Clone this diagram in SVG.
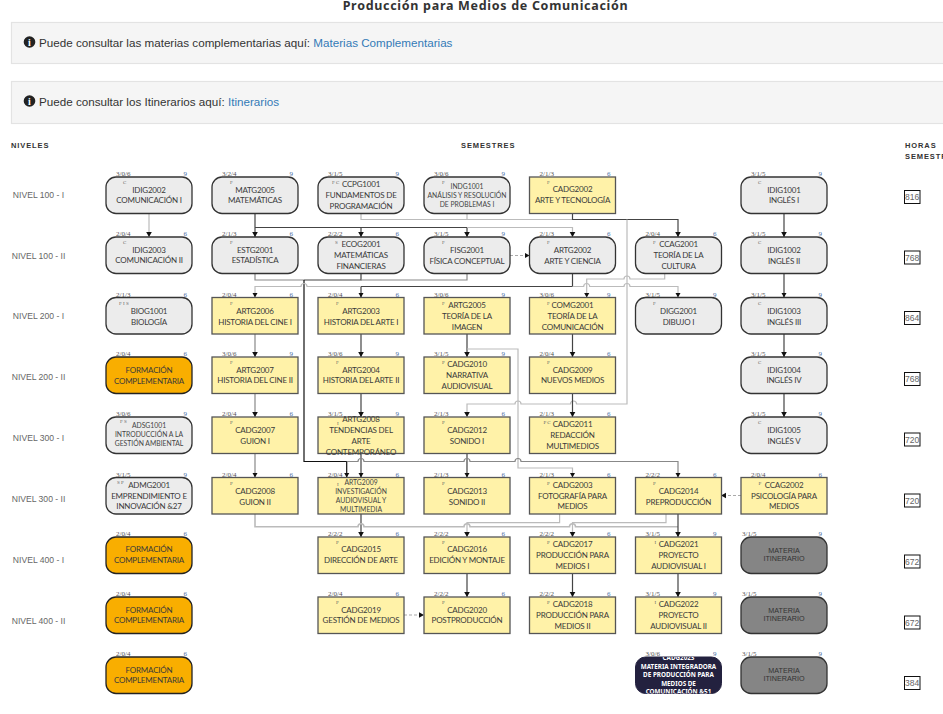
<svg xmlns="http://www.w3.org/2000/svg" width="943" height="714" viewBox="0 0 943 714">
<style>
text{font-family:"Lato","Liberation Sans",sans-serif}
.panel{fill:#f5f5f5;stroke:#e3e3e3;stroke-width:1.2}
.ptxt{font-family:"Liberation Sans",Arial,sans-serif;font-size:11.65px;fill:#333}
.link{fill:#337ab7}
.hd{font-family:"Liberation Sans",Arial,sans-serif;font-size:7.5px;font-weight:bold;fill:#333;letter-spacing:.9px}
.lvl{font-family:"Liberation Sans",Arial,sans-serif;font-size:8.6px;fill:#666;text-anchor:middle}
.hbox{fill:#fff;stroke:#111;stroke-width:1}
.htxt{font-family:"Liberation Sans",Arial,sans-serif;font-size:8.5px;fill:#666;text-anchor:middle}
.g{fill:#ececec;stroke:#333;stroke-width:1.3}
.y{fill:#fff2a8;stroke:#555;stroke-width:1.3}
.o{fill:#f9ae00;stroke:#222;stroke-width:1.3}
.m{fill:#858585;stroke:#333;stroke-width:1.3}
.b{fill:#23213f;stroke:#23213f;stroke-width:1}
.cr{font-family:"Liberation Serif",serif;font-size:7px;fill:#555}
.cd{font-family:"Liberation Serif",serif;font-size:7px;fill:#4a6fa5;text-anchor:end}
.tag{font-family:"Liberation Serif",serif;font-size:5px;fill:#666}
.t{font-size:8px;letter-spacing:-.2px;fill:#3a3a3a;text-anchor:middle}
.s{font-size:6.8px;fill:#444;text-anchor:middle}
.i{font-family:"Liberation Sans",Arial,sans-serif;font-size:7.2px;fill:#333;text-anchor:middle}
.w7{font-family:"Noto Sans",sans-serif;font-size:6.3px;font-weight:bold;fill:#fff;text-anchor:middle}
#connectors path{fill:none;stroke-width:1.2}
.cw{stroke:#bbb}
.cm{stroke:#888}
.cd2{stroke:#444}
.ck{stroke:#111;stroke-width:1.4}
.dash{stroke:#aaa;stroke-dasharray:3 2}
.a{marker-end:url(#arr)}
</style>
<defs>
<marker id="arr" markerUnits="userSpaceOnUse" markerWidth="7" markerHeight="7" refX="5" refY="3" orient="auto"><path d="M0 0.2L5 3L0 5.8Z" fill="#111"/></marker>
<clipPath id="clipB"><rect x="0" y="0" width="86" height="36.5" rx="10"/></clipPath>
</defs>
<rect width="943" height="714" fill="#fff"/>
<text x="485.500" y="9.500" text-anchor="middle" style="font-family:'Noto Sans',sans-serif;font-size:12.500px;font-weight:bold;fill:#333;letter-spacing:.7px">Producción para Medios de Comunicación</text>
<g id="panel1"><rect class="panel" x="11.500" y="22.500" width="945" height="41"/><circle cx="29.500" cy="42" r="5.800" fill="#222"/><text x="29.500" y="45.500" text-anchor="middle" style="font-family:'Liberation Serif',serif;font-size:10px;font-weight:bold;fill:#fff">i</text><text class="ptxt" x="39" y="47">Puede consultar las materias complementarias aquí: <tspan class="link">Materias Complementarias</tspan></text></g>
<g id="panel2"><rect class="panel" x="11.500" y="81.500" width="945" height="42"/><circle cx="29.500" cy="101" r="5.800" fill="#222"/><text x="29.500" y="104.500" text-anchor="middle" style="font-family:'Liberation Serif',serif;font-size:10px;font-weight:bold;fill:#fff">i</text><text class="ptxt" x="39" y="106">Puede consultar los Itinerarios aquí: <tspan class="link">Itinerarios</tspan></text></g>
<text class="hd" x="11" y="147.500">NIVELES</text>
<text class="hd" x="461" y="147.500">SEMESTRES</text>
<text class="hd" x="905" y="147.500">HORAS</text>
<text class="hd" x="905" y="158.500">SEMESTRE</text>
<g id="levels">
<text class="lvl" x="38.500" y="198">NIVEL 100 - I</text>
<text class="lvl" x="38.500" y="259">NIVEL 100 - II</text>
<text class="lvl" x="38.500" y="319">NIVEL 200 - I</text>
<text class="lvl" x="38.500" y="380">NIVEL 200 - II</text>
<text class="lvl" x="38.500" y="441">NIVEL 300 - I</text>
<text class="lvl" x="38.500" y="502">NIVEL 300 - II</text>
<text class="lvl" x="38.500" y="563">NIVEL 400 - I</text>
<text class="lvl" x="38.500" y="624">NIVEL 400 - II</text>
</g>
<g id="hours">
<g id="h1"><rect class="hbox" x="904.500" y="190.500" width="15.500" height="13"/><text class="htxt" x="912.200" y="200">816</text></g>
<g id="h2"><rect class="hbox" x="904.500" y="251" width="15.500" height="13"/><text class="htxt" x="912.200" y="260.500">768</text></g>
<g id="h3"><rect class="hbox" x="904.500" y="311.500" width="15.500" height="13"/><text class="htxt" x="912.200" y="321">864</text></g>
<g id="h4"><rect class="hbox" x="904.500" y="372.500" width="15.500" height="13"/><text class="htxt" x="912.200" y="382">768</text></g>
<g id="h5"><rect class="hbox" x="904.500" y="433" width="15.500" height="13"/><text class="htxt" x="912.200" y="442.500">720</text></g>
<g id="h6"><rect class="hbox" x="904.500" y="494" width="15.500" height="13"/><text class="htxt" x="912.200" y="503.500">720</text></g>
<g id="h7"><rect class="hbox" x="904.500" y="555" width="15.500" height="13"/><text class="htxt" x="912.200" y="564.500">672</text></g>
<g id="h8"><rect class="hbox" x="904.500" y="616" width="15.500" height="13"/><text class="htxt" x="912.200" y="625.500">672</text></g>
<g id="h9"><rect class="hbox" x="904.500" y="676.500" width="15.500" height="13"/><text class="htxt" x="912.200" y="686">384</text></g>
</g>
<g id="connectors">
<path class="cw a" d="M149 213.500V237"/>
<path class="cd2 a" d="M255 213.500V237"/>
<path class="cw" d="M361 213.500V219.500H572.500M467 213.500V219.500"/>
<path class="cd2 a" d="M572.500 213.500V219.500H678V237"/>
<path class="cd2 a" d="M255 227.500H361V237"/>
<path class="cd2 a" d="M361 227.500H467V237"/>
<path class="cw a" d="M467 227.500H572.500V237"/>
<path class="cw a" d="M627 219.500V404H576.500a3 3 0 0 0 -6 0H521a3 3 0 0 0 -6 0H467V417"/>
<path class="cm" d="M255 273.500V280H304"/>
<path class="cd2" d="M361 273.500V280H304"/>
<path class="cm" d="M467 273.500V280H361"/>
<path class="ck a" d="M304 280V461.500H346.700V477.500"/>
<path class="cd2 a" d="M572.500 273.500V286.500H361V297.500"/>
<path class="cw a" d="M361 286.500H307a3 3 0 0 0 -6 0H255V297.500"/>
<path class="cw a" d="M572.500 286.500H583.700a3 3 0 0 1 6 0H624a3 3 0 0 1 6 0H678V297.500"/>
<path class="cw a" d="M664.700 273.500V279H630a3 3 0 0 0 -6 0H586.700V297.500"/>
<path class="cm a" d="M255 334V357"/>
<path class="cm a" d="M255 393.500V417"/>
<path class="cm a" d="M255 453.500V477.500"/>
<path class="cd2 a" d="M361 334V357"/>
<path class="cd2 a" d="M361 393.500V417"/>
<path class="cd2 a" d="M361 453.500V477.500"/>
<path class="cd2 a" d="M467 334V357"/>
<path class="cw a" d="M467 349H518V468H572.500V477.500"/>
<path class="cd2 a" d="M572.500 334V357"/>
<path class="cd2 a" d="M572.500 393.500V417"/>
<path class="cd2 a" d="M467 453.500V477.500"/>
<path class="cm a" d="M346.700 461.500H358a3 3 0 0 1 6 0H464a3 3 0 0 1 6 0H515a3 3 0 0 1 6 0H678V477.500"/>
<path class="cd2 a" d="M361 514V537"/>
<path class="cw" style="stroke-width:1.6" d="M255 514V526.700H358a3 3 0 0 1 6 0H464a3 3 0 0 1 6 0H569.500a3 3 0 0 1 6 0H678"/>
<path class="cw a" d="M559.600 514V522.700H467V537"/>
<path class="cw a" d="M666 514V522.700H572.500V537"/>
<path class="cd2 a" d="M678 514V537"/>
<path class="cd2 a" d="M467 573.500V597"/>
<path class="cd2 a" d="M572.500 573.500V597"/>
<path class="cd2 a" d="M678 573.500V597"/>
<path class="cd2 a" d="M784 213.500V237"/>
<path class="cd2 a" d="M784 273.500V297.500"/>
<path class="cd2 a" d="M784 334V357"/>
<path class="cd2 a" d="M784 393.500V417"/>
<path class="dash a" d="M510 255.500H529.500"/>
<path class="dash a" d="M404 615H424"/>
<path class="dash a" d="M741 495.500H721"/>
</g>
<g id="nodes">
<g id="IDIG2002" transform="translate(106,177)"><rect class="g" width="86" height="36.500" rx="10"/><text class="cr" x="10" y="-1">3/0/6</text><text class="cd" x="81" y="-1">9</text><text class="tag" x="17" y="7">C</text><text class="t" x="43" y="16">IDIG2002</text><text class="t" x="43" y="26">COMUNICACIÓN I</text></g>
<g id="MATG2005" transform="translate(212,177)"><rect class="g" width="86" height="36.500" rx="10"/><text class="cr" x="10" y="-1">3/2/4</text><text class="cd" x="81" y="-1">9</text><text class="tag" x="18" y="7">F</text><text class="t" x="43" y="16">MATG2005</text><text class="t" x="43" y="26">MATEMÁTICAS</text></g>
<g id="CCPG1001" transform="translate(318,177)"><rect class="g" width="86" height="36.500" rx="10"/><text class="cr" x="10" y="-1">3/1/5</text><text class="cd" x="81" y="-1">9</text><text class="tag" x="14" y="7">F C</text><text class="t" x="43" y="10">CCPG1001</text><text class="t" x="43" y="21">FUNDAMENTOS DE</text><text class="t" x="43" y="32">PROGRAMACIÓN</text></g>
<g id="INDG1001" transform="translate(424,177)"><rect class="g" width="86" height="36.500" rx="10"/><text class="cr" x="10" y="-1">3/0/6</text><text class="cd" x="81" y="-1">9</text><text class="tag" x="18" y="7">F</text><text class="s" x="43" y="12">INDG1001</text><text class="s" x="43" y="21">ANÁLISIS Y RESOLUCIÓN</text><text class="s" x="43" y="30">DE PROBLEMAS I</text></g>
<g id="CADG2002" transform="translate(529.500,177)"><rect class="y" width="86" height="36.500"/><text class="cr" x="10" y="-1">2/1/3</text><text class="cd" x="81" y="-1">6</text><text class="tag" x="17.500" y="7">F</text><text class="t" x="43" y="15">CADG2002</text><text class="t" x="43" y="26">ARTE Y TECNOLOGÍA</text></g>
<g id="IDIG1001" transform="translate(741,177)"><rect class="g" width="86" height="36.500" rx="10"/><text class="cr" x="10" y="-1">3/1/5</text><text class="cd" x="81" y="-1">9</text><text class="tag" x="17" y="7">C</text><text class="t" x="43" y="16">IDIG1001</text><text class="t" x="43" y="26">INGLÉS I</text></g>

<g id="IDIG2003" transform="translate(106,237)"><rect class="g" width="86" height="36.500" rx="10"/><text class="cr" x="10" y="-1">2/0/4</text><text class="cd" x="81" y="-1">6</text><text class="tag" x="17" y="7">C</text><text class="t" x="43" y="16">IDIG2003</text><text class="t" x="43" y="26">COMUNICACIÓN II</text></g>
<g id="ESTG2001" transform="translate(212,237)"><rect class="g" width="86" height="36.500" rx="10"/><text class="cr" x="10" y="-1">2/1/3</text><text class="cd" x="81" y="-1">6</text><text class="tag" x="18" y="7">F</text><text class="t" x="43" y="16">ESTG2001</text><text class="t" x="43" y="26">ESTADÍSTICA</text></g>
<g id="ECOG2001" transform="translate(318,237)"><rect class="g" width="86" height="36.500" rx="10"/><text class="cr" x="10" y="-1">2/2/2</text><text class="cd" x="81" y="-1">6</text><text class="tag" x="17" y="7">S</text><text class="t" x="43" y="10">ECOG2001</text><text class="t" x="43" y="21">MATEMÁTICAS</text><text class="t" x="43" y="32">FINANCIERAS</text></g>
<g id="FISG2001" transform="translate(424,237)"><rect class="g" width="86" height="36.500" rx="10"/><text class="cr" x="10" y="-1">3/1/5</text><text class="cd" x="81" y="-1">9</text><text class="tag" x="18" y="7">F</text><text class="t" x="43" y="16">FISG2001</text><text class="t" x="43" y="27">FÍSICA CONCEPTUAL</text></g>
<g id="ARTG2002" transform="translate(529.500,237)"><rect class="g" width="86" height="36.500" rx="10"/><text class="cr" x="10" y="-1">2/1/3</text><text class="cd" x="81" y="-1">6</text><text class="tag" x="17.500" y="7">F</text><text class="t" x="43" y="16">ARTG2002</text><text class="t" x="43" y="27">ARTE Y CIENCIA</text></g>
<g id="CCAG2001" transform="translate(635.500,237)"><rect class="g" width="86" height="36.500" rx="10"/><text class="cr" x="10" y="-1">2/0/4</text><text class="cd" x="81" y="-1">6</text><text class="tag" x="17.500" y="7">F</text><text class="t" x="43" y="10">CCAG2001</text><text class="t" x="43" y="21">TEORÍA DE LA</text><text class="t" x="43" y="32">CULTURA</text></g>
<g id="IDIG1002" transform="translate(741,237)"><rect class="g" width="86" height="36.500" rx="10"/><text class="cr" x="10" y="-1">3/1/5</text><text class="cd" x="81" y="-1">9</text><text class="tag" x="17" y="7">C</text><text class="t" x="43" y="16">IDIG1002</text><text class="t" x="43" y="27">INGLÉS II</text></g>

<g id="BIOG1001" transform="translate(106,297.500)"><rect class="g" width="86" height="36.500" rx="10"/><text class="cr" x="10" y="-1">2/1/3</text><text class="cd" x="81" y="-1">6</text><text class="tag" x="13" y="7">F I S</text><text class="t" x="43" y="16">BIOG1001</text><text class="t" x="43" y="27">BIOLOGÍA</text></g>
<g id="ARTG2006" transform="translate(212,297.500)"><rect class="y" width="86" height="36.500"/><text class="cr" x="10" y="-1">2/0/4</text><text class="cd" x="81" y="-1">6</text><text class="tag" x="18" y="7">F</text><text class="t" x="43" y="16">ARTG2006</text><text class="t" x="43" y="27">HISTORIA DEL CINE I</text></g>
<g id="ARTG2003" transform="translate(318,297.500)"><rect class="y" width="86" height="36.500"/><text class="cr" x="10" y="-1">2/0/4</text><text class="cd" x="81" y="-1">6</text><text class="tag" x="18" y="7">F</text><text class="t" x="43" y="16">ARTG2003</text><text class="t" x="43" y="27">HISTORIA DEL ARTE I</text></g>
<g id="ARTG2005" transform="translate(424,297.500)"><rect class="y" width="86" height="36.500"/><text class="cr" x="10" y="-1">3/0/6</text><text class="cd" x="81" y="-1">9</text><text class="tag" x="18" y="7">F</text><text class="t" x="43" y="10">ARTG2005</text><text class="t" x="43" y="21">TEORÍA DE LA</text><text class="t" x="43" y="32">IMAGEN</text></g>
<g id="COMG2001" transform="translate(529.500,297.500)"><rect class="y" width="86" height="36.500"/><text class="cr" x="10" y="-1">3/0/6</text><text class="cd" x="81" y="-1">9</text><text class="tag" x="17.500" y="7">F</text><text class="t" x="43" y="10">COMG2001</text><text class="t" x="43" y="21">TEORÍA DE LA</text><text class="t" x="43" y="32">COMUNICACIÓN</text></g>
<g id="DIGG2001" transform="translate(635.500,297.500)"><rect class="g" width="86" height="36.500" rx="10"/><text class="cr" x="10" y="-1">3/1/5</text><text class="cd" x="81" y="-1">9</text><text class="tag" x="17.500" y="7">F</text><text class="t" x="43" y="16">DIGG2001</text><text class="t" x="43" y="27">DIBUJO I</text></g>
<g id="IDIG1003" transform="translate(741,297.500)"><rect class="g" width="86" height="36.500" rx="10"/><text class="cr" x="10" y="-1">3/1/5</text><text class="cd" x="81" y="-1">9</text><text class="tag" x="17" y="7">C</text><text class="t" x="43" y="16">IDIG1003</text><text class="t" x="43" y="27">INGLÉS III</text></g>

<g id="FC1" transform="translate(106,357)"><rect class="o" width="86" height="36.500" rx="10"/><text class="cr" x="10" y="-1">2/0/4</text><text class="cd" x="81" y="-1">6</text><text class="t" x="43" y="16">FORMACIÓN</text><text class="t" x="43" y="27">COMPLEMENTARIA</text></g>
<g id="ARTG2007" transform="translate(212,357)"><rect class="y" width="86" height="36.500"/><text class="cr" x="10" y="-1">3/0/6</text><text class="cd" x="81" y="-1">9</text><text class="tag" x="18" y="7">F</text><text class="t" x="43" y="16">ARTG2007</text><text class="t" x="43" y="26">HISTORIA DEL CINE II</text></g>
<g id="ARTG2004" transform="translate(318,357)"><rect class="y" width="86" height="36.500"/><text class="cr" x="10" y="-1">3/0/6</text><text class="cd" x="81" y="-1">9</text><text class="tag" x="18" y="7">F</text><text class="t" x="43" y="16">ARTG2004</text><text class="t" x="43" y="26">HISTORIA DEL ARTE II</text></g>
<g id="CADG2010" transform="translate(424,357)"><rect class="y" width="86" height="36.500"/><text class="cr" x="10" y="-1">3/1/5</text><text class="cd" x="81" y="-1">9</text><text class="tag" x="18" y="7">P</text><text class="t" x="43" y="10">CADG2010</text><text class="t" x="43" y="21">NARRATIVA</text><text class="t" x="43" y="32">AUDIOVISUAL</text></g>
<g id="CADG2009" transform="translate(529.500,357)"><rect class="y" width="86" height="36.500"/><text class="cr" x="10" y="-1">2/0/4</text><text class="cd" x="81" y="-1">6</text><text class="tag" x="17.500" y="7">P</text><text class="t" x="43" y="16">CADG2009</text><text class="t" x="43" y="26">NUEVOS MEDIOS</text></g>
<g id="IDIG1004" transform="translate(741,357)"><rect class="g" width="86" height="36.500" rx="10"/><text class="cr" x="10" y="-1">3/1/5</text><text class="cd" x="81" y="-1">9</text><text class="tag" x="17" y="7">C</text><text class="t" x="43" y="16">IDIG1004</text><text class="t" x="43" y="26">INGLÉS IV</text></g>

<g id="ADSG1001" transform="translate(106,417)"><rect class="g" width="86" height="36.500" rx="10"/><text class="cr" x="10" y="-1">3/0/6</text><text class="cd" x="81" y="-1">9</text><text class="tag" x="14" y="6">F S</text><text class="s" x="43" y="10.500">ADSG1001</text><text class="s" x="43" y="19.500">INTRODUCCIÓN A LA</text><text class="s" x="43" y="28.500">GESTIÓN AMBIENTAL</text></g>
<g id="CADG2007" transform="translate(212,417)"><rect class="y" width="86" height="36.500"/><text class="cr" x="10" y="-1">2/0/4</text><text class="cd" x="81" y="-1">6</text><text class="tag" x="18" y="7">P</text><text class="t" x="43" y="16">CADG2007</text><text class="t" x="43" y="27">GUION I</text></g>
<g id="ARTG2008" transform="translate(318,417)"><rect class="y" width="86" height="36.500"/><text class="cr" x="10" y="-1">3/1/5</text><text class="cd" x="81" y="-1">9</text><text class="tag" x="19" y="8">I</text><text class="t" x="43" y="5">ARTG2008</text><text class="t" x="43" y="16">TENDENCIAS DEL</text><text class="t" x="43" y="27">ARTE</text><text class="t" x="43" y="38">CONTEMPORÁNEO</text></g>
<g id="CADG2012" transform="translate(424,417)"><rect class="y" width="86" height="36.500"/><text class="cr" x="10" y="-1">2/1/3</text><text class="cd" x="81" y="-1">6</text><text class="tag" x="18" y="7">P</text><text class="t" x="43" y="16">CADG2012</text><text class="t" x="43" y="27">SONIDO I</text></g>
<g id="CADG2011" transform="translate(529.500,417)"><rect class="y" width="86" height="36.500"/><text class="cr" x="10" y="-1">2/1/3</text><text class="cd" x="81" y="-1">6</text><text class="tag" x="14" y="7">P C</text><text class="t" x="43" y="10">CADG2011</text><text class="t" x="43" y="21">REDACCIÓN</text><text class="t" x="43" y="32">MULTIMEDIOS</text></g>
<g id="IDIG1005" transform="translate(741,417)"><rect class="g" width="86" height="36.500" rx="10"/><text class="cr" x="10" y="-1">3/1/5</text><text class="cd" x="81" y="-1">9</text><text class="tag" x="17" y="7">C</text><text class="t" x="43" y="16">IDIG1005</text><text class="t" x="43" y="27">INGLÉS V</text></g>

<g id="ADMG2001" transform="translate(106,477.500)"><rect class="g" width="86" height="36.500" rx="10"/><text class="cr" x="10" y="-1">3/1/5</text><text class="cd" x="81" y="-1">9</text><text class="tag" x="11" y="6">S P</text><text class="t" x="43" y="10">ADMG2001</text><text class="t" x="43" y="21">EMPRENDIMIENTO E</text><text class="t" x="43" y="31">INNOVACIÓN &amp;27</text></g>
<g id="CADG2008" transform="translate(212,477.500)"><rect class="y" width="86" height="36.500"/><text class="cr" x="10" y="-1">2/0/4</text><text class="cd" x="81" y="-1">6</text><text class="tag" x="18" y="7">P</text><text class="t" x="43" y="16">CADG2008</text><text class="t" x="43" y="27">GUION II</text></g>
<g id="ARTG2009" transform="translate(318,477.500)"><rect class="y" width="86" height="36.500"/><text class="cr" x="10" y="-1">2/0/4</text><text class="cd" x="81" y="-1">6</text><text class="tag" x="19" y="8">I</text><text class="s" x="43" y="7.500">ARTG2009</text><text class="s" x="43" y="16.500">INVESTIGACIÓN</text><text class="s" x="43" y="25.500">AUDIOVISUAL Y</text><text class="s" x="43" y="34.500">MULTIMEDIA</text></g>
<g id="CADG2013" transform="translate(424,477.500)"><rect class="y" width="86" height="36.500"/><text class="cr" x="10" y="-1">2/1/3</text><text class="cd" x="81" y="-1">6</text><text class="tag" x="18" y="7">P</text><text class="t" x="43" y="16">CADG2013</text><text class="t" x="43" y="27">SONIDO II</text></g>
<g id="CADG2003" transform="translate(529.500,477.500)"><rect class="y" width="86" height="36.500"/><text class="cr" x="10" y="-1">2/1/3</text><text class="cd" x="81" y="-1">6</text><text class="tag" x="17.500" y="7">P</text><text class="t" x="43" y="10">CADG2003</text><text class="t" x="43" y="21">FOTOGRAFÍA PARA</text><text class="t" x="43" y="31">MEDIOS</text></g>
<g id="CADG2014" transform="translate(635.500,477.500)"><rect class="y" width="86" height="36.500"/><text class="cr" x="10" y="-1">2/2/2</text><text class="cd" x="81" y="-1">6</text><text class="tag" x="17.500" y="7">P</text><text class="t" x="43" y="16">CADG2014</text><text class="t" x="43" y="27">PREPRODUCCIÓN</text></g>
<g id="CCAG2002" transform="translate(741,477.500)"><rect class="y" width="86" height="36.500"/><text class="cr" x="10" y="-1">2/0/4</text><text class="cd" x="81" y="-1">6</text><text class="tag" x="17.500" y="7">P</text><text class="t" x="43" y="10">CCAG2002</text><text class="t" x="43" y="21">PSICOLOGÍA PARA</text><text class="t" x="43" y="31">MEDIOS</text></g>

<g id="FC2" transform="translate(106,537)"><rect class="o" width="86" height="36.500" rx="10"/><text class="cr" x="10" y="-1">2/0/4</text><text class="cd" x="81" y="-1">6</text><text class="t" x="43" y="15">FORMACIÓN</text><text class="t" x="43" y="26">COMPLEMENTARIA</text></g>
<g id="CADG2015" transform="translate(318,537)"><rect class="y" width="86" height="36.500"/><text class="cr" x="10" y="-1">2/2/2</text><text class="cd" x="81" y="-1">6</text><text class="tag" x="18" y="7">P</text><text class="t" x="43" y="15">CADG2015</text><text class="t" x="43" y="26">DIRECCIÓN DE ARTE</text></g>
<g id="CADG2016" transform="translate(424,537)"><rect class="y" width="86" height="36.500"/><text class="cr" x="10" y="-1">2/2/2</text><text class="cd" x="81" y="-1">6</text><text class="tag" x="18" y="7">P</text><text class="t" x="43" y="15">CADG2016</text><text class="t" x="43" y="26">EDICIÓN Y MONTAJE</text></g>
<g id="CADG2017" transform="translate(529.500,537)"><rect class="y" width="86" height="36.500"/><text class="cr" x="10" y="-1">2/2/2</text><text class="cd" x="81" y="-1">6</text><text class="tag" x="17.500" y="7">P</text><text class="t" x="43" y="10">CADG2017</text><text class="t" x="43" y="21">PRODUCCIÓN PARA</text><text class="t" x="43" y="32">MEDIOS I</text></g>
<g id="CADG2021" transform="translate(635.500,537)"><rect class="y" width="86" height="36.500"/><text class="cr" x="10" y="-1">3/1/5</text><text class="cd" x="81" y="-1">9</text><text class="tag" x="19" y="7">I</text><text class="t" x="43" y="10">CADG2021</text><text class="t" x="43" y="21">PROYECTO</text><text class="t" x="43" y="32">AUDIOVISUAL I</text></g>
<g id="MI1" transform="translate(741,537)"><rect class="m" width="86" height="36.500" rx="10"/><text class="cr" x="1" y="-1">3/1/5</text><text class="cd" x="81" y="-1">9</text><text class="i" x="43" y="15.500">MATERIA</text><text class="i" x="43" y="24">ITINERARIO</text></g>

<g id="FC3" transform="translate(106,597)"><rect class="o" width="86" height="36.500" rx="10"/><text class="cr" x="10" y="-1">2/0/4</text><text class="cd" x="81" y="-1">6</text><text class="t" x="43" y="16">FORMACIÓN</text><text class="t" x="43" y="26">COMPLEMENTARIA</text></g>
<g id="CADG2019" transform="translate(318,597)"><rect class="y" width="86" height="36.500"/><text class="cr" x="10" y="-1">2/0/4</text><text class="cd" x="81" y="-1">6</text><text class="tag" x="18" y="7">P</text><text class="t" x="43" y="16">CADG2019</text><text class="t" x="43" y="26">GESTIÓN DE MEDIOS</text></g>
<g id="CADG2020" transform="translate(424,597)"><rect class="y" width="86" height="36.500"/><text class="cr" x="10" y="-1">2/2/2</text><text class="cd" x="81" y="-1">6</text><text class="tag" x="18" y="7">P</text><text class="t" x="43" y="16">CADG2020</text><text class="t" x="43" y="26">POSTPRODUCCIÓN</text></g>
<g id="CADG2018" transform="translate(529.500,597)"><rect class="y" width="86" height="36.500"/><text class="cr" x="10" y="-1">2/2/2</text><text class="cd" x="81" y="-1">6</text><text class="tag" x="17.500" y="7">P</text><text class="t" x="43" y="10">CADG2018</text><text class="t" x="43" y="21">PRODUCCIÓN PARA</text><text class="t" x="43" y="32">MEDIOS II</text></g>
<g id="CADG2022" transform="translate(635.500,597)"><rect class="y" width="86" height="36.500"/><text class="cr" x="10" y="-1">3/1/5</text><text class="cd" x="81" y="-1">9</text><text class="tag" x="19" y="7">I</text><text class="t" x="43" y="10">CADG2022</text><text class="t" x="43" y="21">PROYECTO</text><text class="t" x="43" y="32">AUDIOVISUAL II</text></g>
<g id="MI2" transform="translate(741,597)"><rect class="m" width="86" height="36.500" rx="10"/><text class="cr" x="1" y="-1">3/1/5</text><text class="cd" x="81" y="-1">9</text><text class="i" x="43" y="15.500">MATERIA</text><text class="i" x="43" y="24">ITINERARIO</text></g>

<g id="FC4" transform="translate(106,657)"><rect class="o" width="86" height="36.500" rx="10"/><text class="cr" x="10" y="-1">2/0/4</text><text class="cd" x="81" y="-1">6</text><text class="t" x="43" y="16">FORMACIÓN</text><text class="t" x="43" y="26">COMPLEMENTARIA</text></g>
<g id="CADG2023" transform="translate(635.500,657)"><rect class="b" width="86" height="36.500" rx="10"/><text class="cr" x="10" y="-1">3/0/6</text><text class="cd" x="81" y="-1">9</text><g clip-path="url(#clipB)"><text class="w7" x="43" y="3">CADG2023</text><text class="w7" x="43" y="11.500">MATERIA INTEGRADORA</text><text class="w7" x="43" y="20">DE PRODUCCIÓN PARA</text><text class="w7" x="43" y="28.500">MEDIOS DE</text><text class="w7" x="43" y="37">COMUNICACIÓN &amp;51</text></g></g>
<g id="MI3" transform="translate(741,657)"><rect class="m" width="86" height="36.500" rx="10"/><text class="cr" x="1" y="-1">3/1/5</text><text class="cd" x="81" y="-1">9</text><text class="i" x="43" y="15.500">MATERIA</text><text class="i" x="43" y="24">ITINERARIO</text></g>
</g>
</svg>
